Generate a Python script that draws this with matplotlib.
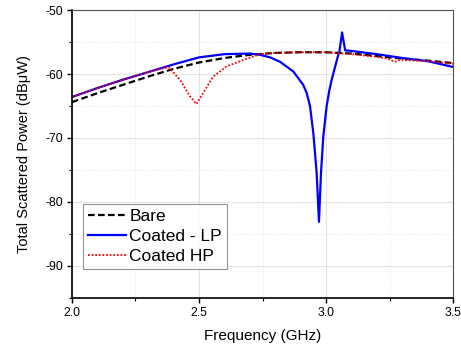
import matplotlib
matplotlib.use("Agg")
import matplotlib.pyplot as plt
from matplotlib.ticker import MultipleLocator

plt.rcParams["font.family"] = ["Liberation Sans", "DejaVu Sans"]
plt.rcParams["axes.unicode_minus"] = False

# Bare antenna
bare_f = [2.0, 2.1, 2.2, 2.3, 2.4, 2.5, 2.6, 2.7, 2.8, 2.9, 3.0, 3.1, 3.2, 3.3, 3.4, 3.5]
bare_p = [-64.4, -63.0, -61.7, -60.4, -59.2, -58.2, -57.5, -57.0, -56.7, -56.6,
          -56.6, -56.8, -57.2, -57.6, -57.9, -58.3]

# Coated - LP
lp_f = [2.0, 2.1, 2.2, 2.3, 2.4, 2.5, 2.6, 2.7, 2.74, 2.78, 2.819, 2.871, 2.91,
        2.924, 2.937, 2.95, 2.963, 2.972, 2.98, 2.989, 3.002, 3.013, 3.022, 3.048,
        3.052, 3.063, 3.075, 3.1, 3.2, 3.3, 3.4, 3.5]
lp_p = [-63.6, -62.2, -60.9, -59.7, -58.5, -57.4, -56.9, -56.8, -57.0, -57.4,
        -58.1, -59.6, -61.7, -63.0, -65.1, -69.3, -75.5, -83.1, -75.5, -69.8,
        -65.1, -62.5, -60.9, -57.0, -56.6, -53.5, -56.3, -56.4, -56.9, -57.5,
        -58.0, -58.9]

# Coated HP
hp_f = [2.0, 2.1, 2.2, 2.3, 2.38, 2.425, 2.465, 2.49, 2.516, 2.556, 2.609, 2.688,
        2.74, 2.8, 2.9, 3.0, 3.1, 3.2, 3.25, 3.27, 3.29, 3.4, 3.5]
hp_p = [-63.6, -62.2, -60.9, -59.7, -58.9, -60.9, -63.5, -64.7, -63.0, -60.4,
        -58.8, -57.6, -56.9, -56.7, -56.6, -56.6, -56.9, -57.3, -57.7, -58.1,
        -57.8, -58.0, -58.4]

fig = plt.figure(figsize=(4.61, 3.46), dpi=100)
ax = fig.add_axes([0.156, 0.139, 0.827, 0.832])

ax.plot(bare_f, bare_p, color="black", linestyle=(0, (3, 1.5)), linewidth=1.6, label="Bare")
ax.plot(lp_f, lp_p, color="#0000ff", linestyle="-", linewidth=1.6, label="Coated - LP")
ax.plot(hp_f, hp_p, color="#ff0000", linestyle=(0, (1, 1)), linewidth=1.3, label="Coated HP")

ax.set_xlim(2.0, 3.5)
ax.set_ylim(-95, -50)
ax.xaxis.set_major_locator(MultipleLocator(0.5))
ax.xaxis.set_minor_locator(MultipleLocator(0.25))
ax.yaxis.set_major_locator(MultipleLocator(10))
ax.yaxis.set_minor_locator(MultipleLocator(5))
ax.xaxis.set_major_formatter(plt.FormatStrFormatter("%.1f"))

ax.grid(which="major", color="#e4e4e4", linewidth=0.8)
ax.grid(which="minor", color="#e4e4e4", linewidth=0.6, linestyle=":")
ax.set_axisbelow(True)

ax.tick_params(which="both", direction="out", labelsize=8.7, top=False, right=False)
ax.tick_params(which="major", length=3.5, width=1, pad=3)
ax.tick_params(which="minor", length=2.5, width=0.8)

for side in ("left", "bottom"):
    ax.spines[side].set_linewidth(1.2)
for side in ("top", "right"):
    ax.spines[side].set_color("#555555")
    ax.spines[side].set_linewidth(0.8)

ax.set_xlabel("Frequency (GHz)", fontsize=11, labelpad=7)
ax.set_ylabel("Total Scattered Power (dB\u03bcW)", fontsize=10.5, labelpad=10)

leg = ax.legend(loc="lower left", bbox_to_anchor=(0.028, 0.1), fontsize=12.5, frameon=True,
                fancybox=False, edgecolor="#777777", handlelength=2.2, handletextpad=0.2,
                borderpad=0.3, labelspacing=0.28, borderaxespad=0)
leg.get_frame().set_linewidth(0.8)

fig.savefig("out.png", dpi=100)
